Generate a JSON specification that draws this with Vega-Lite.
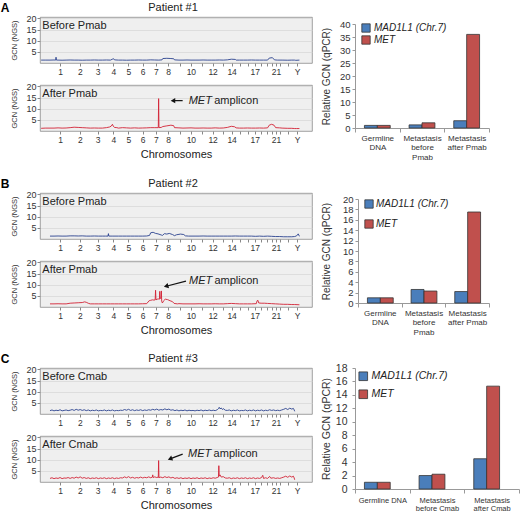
{
"$schema":"https://vega.github.io/schema/vega-lite/v6.json",
"padding":{"left":0,"top":1,"right":0,"bottom":0},
"background":"white",
"config":{"font":"Liberation Sans","view":{"fill":"#efefef","stroke":"#8a8a8a","strokeWidth":0.8}},
"resolve":{"scale":{"color":"independent"},"legend":{"color":"independent"}},
"datasets":{
"bounds":[{"x":0},{"x":249.3},{"x":492.4},{"x":690.4},{"x":881.6},{"x":1062.5},{"x":1233.6},{"x":1392.8},{"x":1539.1},{"x":1680.3},{"x":1815.8},{"x":1950.8},{"x":2084.7},{"x":2199.9},{"x":2307.3},{"x":2409.8},{"x":2500.1},{"x":2581.3},{"x":2659.4},{"x":2718.5},{"x":2781.6},{"x":2829.7},{"x":2881.0},{"x":3036.3},{"x":3095.7}],
"met":[{"x":1352}],
"panel":[{"g":"A1","k":"lab","x":-558,"y":24.6,"t":"A"},{"g":"B1","k":"lab","x":-558,"y":24.6,"t":"B"},{"g":"C1","k":"lab","x":-558,"y":24.6,"t":"C"},{"g":"A1","k":"pt","x":1526,"y":24.6,"t":"Patient #1"},{"g":"B1","k":"pt","x":1526,"y":24.6,"t":"Patient #2"},{"g":"C1","k":"pt","x":1526,"y":24.6,"t":"Patient #3"}],
"labels":[{"g":"A1","x":-95,"y":16.5,"t":"Before Pmab"},{"g":"A2","x":-95,"y":16.5,"t":"After Pmab"},{"g":"B1","x":-95,"y":16.5,"t":"Before Pmab"},{"g":"B2","x":-95,"y":16.5,"t":"After Pmab"},{"g":"C1","x":-95,"y":16.5,"t":"Before Cmab"},{"g":"C2","x":-95,"y":16.5,"t":"After Cmab"}],
"ann":[{"g":"A2","k":"gene","x":1721,"y":13.6,"t":"MET"},{"g":"A2","k":"word","x":2038,"y":13.6,"t":"amplicon"},{"g":"B2","k":"gene","x":1725,"y":11.6,"t":"MET"},{"g":"B2","k":"word","x":2040,"y":11.6,"t":"amplicon"},{"g":"C2","k":"gene","x":1712,"y":12.5,"t":"MET"},{"g":"C2","k":"word","x":2030,"y":12.5,"t":"amplicon"}],
"arrows":[{"g":"A2","x":1646,"y":13.6,"x2":1526,"y2":13.6},{"g":"B2","x":1687,"y":11.6,"x2":1441,"y2":9.3},{"g":"C2","x":1646,"y":12.5,"x2":1489,"y2":10.35}],
"heads":[{"g":"A2","x":1526,"y":13.6},{"g":"B2","x":1441,"y":9.3},{"g":"C2","x":1489,"y":10.35}],
"bars":[
{"p":"A","cat":"Germline|DNA","gene":"MAD1L1 (Chr.7)","v":1.0},{"p":"A","cat":"Germline|DNA","gene":"MET","v":1.0},
{"p":"A","cat":"Metastasis|before|Pmab","gene":"MAD1L1 (Chr.7)","v":1.2},{"p":"A","cat":"Metastasis|before|Pmab","gene":"MET","v":2.0},
{"p":"A","cat":"Metastasis|after Pmab","gene":"MAD1L1 (Chr.7)","v":2.8},{"p":"A","cat":"Metastasis|after Pmab","gene":"MET","v":36.0},
{"p":"B","cat":"Germline|DNA","gene":"MAD1L1 (Chr.7)","v":1.0},{"p":"B","cat":"Germline|DNA","gene":"MET","v":1.0},
{"p":"B","cat":"Metastasis|before|Pmab","gene":"MAD1L1 (Chr.7)","v":2.6},{"p":"B","cat":"Metastasis|before|Pmab","gene":"MET","v":2.3},
{"p":"B","cat":"Metastasis|after Pmab","gene":"MAD1L1 (Chr.7)","v":2.2},{"p":"B","cat":"Metastasis|after Pmab","gene":"MET","v":17.5},
{"p":"C","cat":"Germline DNA","gene":"MAD1L1 (Chr.7)","v":1.0},{"p":"C","cat":"Germline DNA","gene":"MET","v":1.0},
{"p":"C","cat":"Metastasis|before Cmab","gene":"MAD1L1 (Chr.7)","v":2.0},{"p":"C","cat":"Metastasis|before Cmab","gene":"MET","v":2.2},
{"p":"C","cat":"Metastasis|after Cmab","gene":"MAD1L1 (Chr.7)","v":4.5},{"p":"C","cat":"Metastasis|after Cmab","gene":"MET","v":15.3}],
"lines":[
{"g":"A1","x":-110,"y":1.3},{"g":"A1","x":-60,"y":1.3},{"g":"A1","x":0,"y":1.3},{"g":"A1","x":50,"y":1.35},{"g":"A1","x":70,"y":1.3},{"g":"A1","x":75,"y":2.6},{"g":"A1","x":80,"y":1.3},{"g":"A1","x":100,"y":1.3},{"g":"A1","x":150,"y":1.25},{"g":"A1","x":200,"y":1.3},{"g":"A1","x":250,"y":1.35},{"g":"A1","x":300,"y":1.3},{"g":"A1","x":350,"y":1.3},{"g":"A1","x":400,"y":1.25},{"g":"A1","x":450,"y":1.3},{"g":"A1","x":500,"y":1.3},{"g":"A1","x":550,"y":1.35},{"g":"A1","x":600,"y":1.3},{"g":"A1","x":650,"y":1.3},{"g":"A1","x":700,"y":1.35},{"g":"A1","x":750,"y":1.3},{"g":"A1","x":780,"y":1.8},{"g":"A1","x":790,"y":1.9},{"g":"A1","x":800,"y":1.4},{"g":"A1","x":850,"y":1.3},{"g":"A1","x":900,"y":1.3},{"g":"A1","x":950,"y":1.25},{"g":"A1","x":1000,"y":1.3},{"g":"A1","x":1050,"y":1.3},{"g":"A1","x":1100,"y":1.35},{"g":"A1","x":1150,"y":1.3},{"g":"A1","x":1200,"y":1.3},{"g":"A1","x":1250,"y":1.4},{"g":"A1","x":1300,"y":1.35},{"g":"A1","x":1350,"y":1.3},{"g":"A1","x":1390,"y":1.4},{"g":"A1","x":1400,"y":2.0},{"g":"A1","x":1450,"y":2.1},{"g":"A1","x":1500,"y":2.0},{"g":"A1","x":1535,"y":1.9},{"g":"A1","x":1545,"y":1.4},{"g":"A1","x":1600,"y":1.3},{"g":"A1","x":1650,"y":1.3},{"g":"A1","x":1700,"y":1.35},{"g":"A1","x":1750,"y":1.3},{"g":"A1","x":1800,"y":1.3},{"g":"A1","x":1850,"y":1.3},{"g":"A1","x":1900,"y":1.35},{"g":"A1","x":1950,"y":1.3},{"g":"A1","x":2000,"y":1.3},{"g":"A1","x":2050,"y":1.3},{"g":"A1","x":2100,"y":1.35},{"g":"A1","x":2150,"y":1.3},{"g":"A1","x":2200,"y":1.4},{"g":"A1","x":2250,"y":1.7},{"g":"A1","x":2300,"y":1.6},{"g":"A1","x":2310,"y":1.3},{"g":"A1","x":2350,"y":1.3},{"g":"A1","x":2400,"y":1.3},{"g":"A1","x":2450,"y":1.3},{"g":"A1","x":2500,"y":1.35},{"g":"A1","x":2550,"y":1.3},{"g":"A1","x":2600,"y":1.3},{"g":"A1","x":2650,"y":1.3},{"g":"A1","x":2700,"y":1.3},{"g":"A1","x":2720,"y":2.2},{"g":"A1","x":2760,"y":2.4},{"g":"A1","x":2785,"y":1.4},{"g":"A1","x":2820,"y":1.3},{"g":"A1","x":2880,"y":1.3},{"g":"A1","x":2950,"y":1.25},{"g":"A1","x":3000,"y":1.3},{"g":"A1","x":3036,"y":1.3},{"g":"A1","x":3050,"y":1.2},{"g":"A1","x":3095,"y":1.3},
{"g":"A2","x":-110,"y":1.2},{"g":"A2","x":-60,"y":1.3},{"g":"A2","x":0,"y":1.3},{"g":"A2","x":50,"y":1.3},{"g":"A2","x":100,"y":1.4},{"g":"A2","x":150,"y":1.3},{"g":"A2","x":200,"y":1.35},{"g":"A2","x":250,"y":1.5},{"g":"A2","x":300,"y":1.7},{"g":"A2","x":350,"y":1.6},{"g":"A2","x":400,"y":1.5},{"g":"A2","x":450,"y":1.4},{"g":"A2","x":500,"y":1.3},{"g":"A2","x":550,"y":1.35},{"g":"A2","x":600,"y":1.3},{"g":"A2","x":650,"y":1.3},{"g":"A2","x":700,"y":1.5},{"g":"A2","x":740,"y":1.8},{"g":"A2","x":760,"y":2.2},{"g":"A2","x":775,"y":3.0},{"g":"A2","x":785,"y":2.2},{"g":"A2","x":800,"y":1.6},{"g":"A2","x":830,"y":1.5},{"g":"A2","x":850,"y":1.3},{"g":"A2","x":900,"y":1.5},{"g":"A2","x":950,"y":1.4},{"g":"A2","x":1000,"y":1.3},{"g":"A2","x":1050,"y":1.4},{"g":"A2","x":1100,"y":1.3},{"g":"A2","x":1150,"y":1.35},{"g":"A2","x":1200,"y":1.4},{"g":"A2","x":1250,"y":1.5},{"g":"A2","x":1300,"y":1.5},{"g":"A2","x":1344,"y":1.5},{"g":"A2","x":1348,"y":14.5},{"g":"A2","x":1352,"y":1.5},{"g":"A2","x":1380,"y":1.6},{"g":"A2","x":1400,"y":2.0},{"g":"A2","x":1450,"y":2.3},{"g":"A2","x":1500,"y":2.6},{"g":"A2","x":1535,"y":2.4},{"g":"A2","x":1545,"y":1.5},{"g":"A2","x":1600,"y":1.4},{"g":"A2","x":1650,"y":1.3},{"g":"A2","x":1700,"y":1.35},{"g":"A2","x":1750,"y":1.4},{"g":"A2","x":1800,"y":1.3},{"g":"A2","x":1850,"y":1.3},{"g":"A2","x":1900,"y":1.35},{"g":"A2","x":1950,"y":1.3},{"g":"A2","x":2000,"y":1.3},{"g":"A2","x":2050,"y":1.4},{"g":"A2","x":2100,"y":1.3},{"g":"A2","x":2150,"y":1.35},{"g":"A2","x":2200,"y":1.6},{"g":"A2","x":2250,"y":2.1},{"g":"A2","x":2290,"y":1.9},{"g":"A2","x":2310,"y":1.4},{"g":"A2","x":2350,"y":1.3},{"g":"A2","x":2400,"y":1.3},{"g":"A2","x":2450,"y":1.35},{"g":"A2","x":2500,"y":1.3},{"g":"A2","x":2550,"y":1.3},{"g":"A2","x":2600,"y":1.35},{"g":"A2","x":2650,"y":1.3},{"g":"A2","x":2700,"y":1.4},{"g":"A2","x":2720,"y":2.6},{"g":"A2","x":2750,"y":3.0},{"g":"A2","x":2780,"y":2.6},{"g":"A2","x":2800,"y":1.5},{"g":"A2","x":2850,"y":1.4},{"g":"A2","x":2880,"y":1.3},{"g":"A2","x":2950,"y":1.2},{"g":"A2","x":3000,"y":1.2},{"g":"A2","x":3036,"y":1.1},{"g":"A2","x":3060,"y":1.1},{"g":"A2","x":3095,"y":1.1},
{"g":"B1","x":0,"y":1.3},{"g":"B1","x":50,"y":1.3},{"g":"B1","x":100,"y":1.35},{"g":"B1","x":150,"y":1.3},{"g":"B1","x":200,"y":1.3},{"g":"B1","x":250,"y":1.4},{"g":"B1","x":300,"y":1.4},{"g":"B1","x":350,"y":1.35},{"g":"B1","x":400,"y":1.4},{"g":"B1","x":450,"y":1.3},{"g":"B1","x":500,"y":1.3},{"g":"B1","x":550,"y":1.35},{"g":"B1","x":600,"y":1.3},{"g":"B1","x":650,"y":1.3},{"g":"B1","x":690,"y":1.3},{"g":"B1","x":720,"y":1.3},{"g":"B1","x":725,"y":2.4},{"g":"B1","x":730,"y":1.3},{"g":"B1","x":780,"y":1.3},{"g":"B1","x":850,"y":1.3},{"g":"B1","x":900,"y":1.3},{"g":"B1","x":950,"y":1.3},{"g":"B1","x":1000,"y":1.3},{"g":"B1","x":1050,"y":1.3},{"g":"B1","x":1100,"y":1.3},{"g":"B1","x":1150,"y":1.3},{"g":"B1","x":1200,"y":1.35},{"g":"B1","x":1235,"y":1.6},{"g":"B1","x":1250,"y":2.8},{"g":"B1","x":1280,"y":3.0},{"g":"B1","x":1310,"y":2.5},{"g":"B1","x":1340,"y":2.3},{"g":"B1","x":1380,"y":1.8},{"g":"B1","x":1395,"y":1.6},{"g":"B1","x":1420,"y":2.4},{"g":"B1","x":1450,"y":2.2},{"g":"B1","x":1480,"y":2.5},{"g":"B1","x":1520,"y":2.0},{"g":"B1","x":1545,"y":1.5},{"g":"B1","x":1570,"y":1.9},{"g":"B1","x":1620,"y":2.2},{"g":"B1","x":1660,"y":2.0},{"g":"B1","x":1680,"y":1.4},{"g":"B1","x":1720,"y":1.3},{"g":"B1","x":1800,"y":1.3},{"g":"B1","x":1850,"y":1.3},{"g":"B1","x":1900,"y":1.35},{"g":"B1","x":1950,"y":1.3},{"g":"B1","x":2000,"y":1.3},{"g":"B1","x":2050,"y":1.3},{"g":"B1","x":2100,"y":1.3},{"g":"B1","x":2150,"y":1.3},{"g":"B1","x":2200,"y":1.3},{"g":"B1","x":2250,"y":1.3},{"g":"B1","x":2300,"y":1.35},{"g":"B1","x":2350,"y":1.3},{"g":"B1","x":2400,"y":1.3},{"g":"B1","x":2450,"y":1.3},{"g":"B1","x":2500,"y":1.3},{"g":"B1","x":2550,"y":1.2},{"g":"B1","x":2600,"y":1.3},{"g":"B1","x":2650,"y":1.2},{"g":"B1","x":2700,"y":1.3},{"g":"B1","x":2750,"y":1.2},{"g":"B1","x":2800,"y":1.1},{"g":"B1","x":2850,"y":1.1},{"g":"B1","x":2900,"y":1.0},{"g":"B1","x":2950,"y":1.0},{"g":"B1","x":3000,"y":1.0},{"g":"B1","x":3036,"y":1.1},{"g":"B1","x":3060,"y":1.4},{"g":"B1","x":3080,"y":2.3},{"g":"B1","x":3095,"y":1.2},
{"g":"B2","x":0,"y":1.4},{"g":"B2","x":50,"y":1.4},{"g":"B2","x":100,"y":1.45},{"g":"B2","x":150,"y":1.4},{"g":"B2","x":200,"y":1.4},{"g":"B2","x":250,"y":1.7},{"g":"B2","x":300,"y":1.8},{"g":"B2","x":350,"y":1.9},{"g":"B2","x":400,"y":2.0},{"g":"B2","x":430,"y":2.3},{"g":"B2","x":450,"y":2.1},{"g":"B2","x":480,"y":1.6},{"g":"B2","x":500,"y":1.4},{"g":"B2","x":550,"y":1.4},{"g":"B2","x":600,"y":1.4},{"g":"B2","x":650,"y":1.4},{"g":"B2","x":700,"y":1.4},{"g":"B2","x":750,"y":1.4},{"g":"B2","x":800,"y":1.4},{"g":"B2","x":850,"y":1.4},{"g":"B2","x":900,"y":1.4},{"g":"B2","x":950,"y":1.4},{"g":"B2","x":1000,"y":1.4},{"g":"B2","x":1050,"y":1.4},{"g":"B2","x":1100,"y":1.4},{"g":"B2","x":1150,"y":1.45},{"g":"B2","x":1200,"y":1.5},{"g":"B2","x":1230,"y":2.8},{"g":"B2","x":1250,"y":3.0},{"g":"B2","x":1270,"y":3.2},{"g":"B2","x":1290,"y":3.1},{"g":"B2","x":1305,"y":3.2},{"g":"B2","x":1310,"y":7.5},{"g":"B2","x":1315,"y":3.2},{"g":"B2","x":1330,"y":3.5},{"g":"B2","x":1345,"y":3.6},{"g":"B2","x":1358,"y":3.5},{"g":"B2","x":1362,"y":7.0},{"g":"B2","x":1366,"y":4.0},{"g":"B2","x":1378,"y":3.8},{"g":"B2","x":1382,"y":7.2},{"g":"B2","x":1386,"y":2.5},{"g":"B2","x":1395,"y":1.8},{"g":"B2","x":1410,"y":2.8},{"g":"B2","x":1430,"y":3.5},{"g":"B2","x":1460,"y":3.3},{"g":"B2","x":1490,"y":2.8},{"g":"B2","x":1520,"y":2.4},{"g":"B2","x":1540,"y":1.6},{"g":"B2","x":1580,"y":1.4},{"g":"B2","x":1600,"y":1.5},{"g":"B2","x":1650,"y":1.4},{"g":"B2","x":1700,"y":1.4},{"g":"B2","x":1750,"y":1.4},{"g":"B2","x":1800,"y":1.4},{"g":"B2","x":1850,"y":1.45},{"g":"B2","x":1900,"y":1.4},{"g":"B2","x":1950,"y":1.4},{"g":"B2","x":2000,"y":1.4},{"g":"B2","x":2050,"y":1.45},{"g":"B2","x":2100,"y":1.4},{"g":"B2","x":2150,"y":1.4},{"g":"B2","x":2200,"y":1.5},{"g":"B2","x":2250,"y":1.6},{"g":"B2","x":2300,"y":1.5},{"g":"B2","x":2350,"y":1.4},{"g":"B2","x":2400,"y":1.4},{"g":"B2","x":2450,"y":1.4},{"g":"B2","x":2500,"y":1.4},{"g":"B2","x":2560,"y":1.5},{"g":"B2","x":2570,"y":2.8},{"g":"B2","x":2580,"y":3.0},{"g":"B2","x":2590,"y":1.8},{"g":"B2","x":2620,"y":1.7},{"g":"B2","x":2660,"y":1.7},{"g":"B2","x":2700,"y":1.6},{"g":"B2","x":2750,"y":1.5},{"g":"B2","x":2800,"y":1.4},{"g":"B2","x":2850,"y":1.3},{"g":"B2","x":2900,"y":1.2},{"g":"B2","x":2950,"y":1.2},{"g":"B2","x":3000,"y":1.1},{"g":"B2","x":3036,"y":1.1},{"g":"B2","x":3095,"y":1.0},
{"g":"C1","x":0,"y":1.5},{"g":"C1","x":25,"y":1.8},{"g":"C1","x":50,"y":1.4},{"g":"C1","x":75,"y":1.7},{"g":"C1","x":100,"y":1.5},{"g":"C1","x":125,"y":1.9},{"g":"C1","x":150,"y":1.4},{"g":"C1","x":175,"y":1.6},{"g":"C1","x":200,"y":1.8},{"g":"C1","x":225,"y":1.5},{"g":"C1","x":250,"y":1.7},{"g":"C1","x":275,"y":2.0},{"g":"C1","x":300,"y":1.6},{"g":"C1","x":325,"y":2.1},{"g":"C1","x":350,"y":1.7},{"g":"C1","x":375,"y":2.0},{"g":"C1","x":400,"y":1.6},{"g":"C1","x":425,"y":1.9},{"g":"C1","x":450,"y":1.5},{"g":"C1","x":475,"y":1.8},{"g":"C1","x":500,"y":1.4},{"g":"C1","x":525,"y":1.7},{"g":"C1","x":550,"y":1.5},{"g":"C1","x":575,"y":1.8},{"g":"C1","x":600,"y":1.4},{"g":"C1","x":625,"y":1.6},{"g":"C1","x":650,"y":1.5},{"g":"C1","x":675,"y":1.8},{"g":"C1","x":700,"y":1.4},{"g":"C1","x":725,"y":1.7},{"g":"C1","x":750,"y":1.5},{"g":"C1","x":775,"y":1.8},{"g":"C1","x":800,"y":1.4},{"g":"C1","x":825,"y":1.6},{"g":"C1","x":850,"y":1.5},{"g":"C1","x":875,"y":1.7},{"g":"C1","x":900,"y":1.6},{"g":"C1","x":925,"y":2.0},{"g":"C1","x":950,"y":1.7},{"g":"C1","x":975,"y":2.1},{"g":"C1","x":1000,"y":1.6},{"g":"C1","x":1025,"y":1.9},{"g":"C1","x":1050,"y":1.5},{"g":"C1","x":1075,"y":1.8},{"g":"C1","x":1100,"y":1.6},{"g":"C1","x":1125,"y":1.9},{"g":"C1","x":1150,"y":1.5},{"g":"C1","x":1175,"y":1.8},{"g":"C1","x":1200,"y":1.6},{"g":"C1","x":1225,"y":1.9},{"g":"C1","x":1250,"y":1.7},{"g":"C1","x":1275,"y":2.1},{"g":"C1","x":1300,"y":1.8},{"g":"C1","x":1325,"y":2.2},{"g":"C1","x":1350,"y":1.7},{"g":"C1","x":1375,"y":2.0},{"g":"C1","x":1400,"y":1.8},{"g":"C1","x":1425,"y":2.3},{"g":"C1","x":1450,"y":1.9},{"g":"C1","x":1475,"y":2.2},{"g":"C1","x":1500,"y":1.7},{"g":"C1","x":1525,"y":1.9},{"g":"C1","x":1550,"y":1.5},{"g":"C1","x":1575,"y":1.8},{"g":"C1","x":1600,"y":1.4},{"g":"C1","x":1625,"y":1.7},{"g":"C1","x":1650,"y":1.5},{"g":"C1","x":1675,"y":1.8},{"g":"C1","x":1700,"y":1.4},{"g":"C1","x":1725,"y":1.7},{"g":"C1","x":1750,"y":1.5},{"g":"C1","x":1775,"y":1.6},{"g":"C1","x":1800,"y":1.4},{"g":"C1","x":1825,"y":1.7},{"g":"C1","x":1850,"y":1.5},{"g":"C1","x":1875,"y":1.8},{"g":"C1","x":1900,"y":1.4},{"g":"C1","x":1925,"y":1.7},{"g":"C1","x":1950,"y":1.5},{"g":"C1","x":1975,"y":1.8},{"g":"C1","x":2000,"y":1.5},{"g":"C1","x":2025,"y":1.7},{"g":"C1","x":2050,"y":1.5},{"g":"C1","x":2075,"y":1.9},{"g":"C1","x":2090,"y":2.4},{"g":"C1","x":2100,"y":3.0},{"g":"C1","x":2110,"y":2.3},{"g":"C1","x":2125,"y":2.7},{"g":"C1","x":2140,"y":2.0},{"g":"C1","x":2150,"y":2.4},{"g":"C1","x":2175,"y":1.7},{"g":"C1","x":2200,"y":1.6},{"g":"C1","x":2225,"y":1.8},{"g":"C1","x":2250,"y":1.4},{"g":"C1","x":2275,"y":1.7},{"g":"C1","x":2300,"y":1.5},{"g":"C1","x":2325,"y":1.8},{"g":"C1","x":2350,"y":1.4},{"g":"C1","x":2375,"y":1.6},{"g":"C1","x":2400,"y":1.5},{"g":"C1","x":2425,"y":1.8},{"g":"C1","x":2450,"y":1.4},{"g":"C1","x":2475,"y":1.7},{"g":"C1","x":2500,"y":1.5},{"g":"C1","x":2525,"y":1.8},{"g":"C1","x":2550,"y":1.4},{"g":"C1","x":2575,"y":1.7},{"g":"C1","x":2600,"y":1.5},{"g":"C1","x":2625,"y":1.8},{"g":"C1","x":2650,"y":1.4},{"g":"C1","x":2675,"y":1.7},{"g":"C1","x":2700,"y":1.5},{"g":"C1","x":2725,"y":1.9},{"g":"C1","x":2750,"y":1.6},{"g":"C1","x":2775,"y":1.8},{"g":"C1","x":2800,"y":1.5},{"g":"C1","x":2825,"y":1.7},{"g":"C1","x":2850,"y":1.5},{"g":"C1","x":2875,"y":1.8},{"g":"C1","x":2900,"y":2.1},{"g":"C1","x":2925,"y":2.5},{"g":"C1","x":2950,"y":2.0},{"g":"C1","x":2975,"y":2.6},{"g":"C1","x":3000,"y":2.2},{"g":"C1","x":3020,"y":2.5},{"g":"C1","x":3030,"y":1.8},{"g":"C1","x":3036,"y":1.2},
{"g":"C2","x":0,"y":1.6},{"g":"C2","x":25,"y":1.9},{"g":"C2","x":50,"y":1.5},{"g":"C2","x":75,"y":1.8},{"g":"C2","x":100,"y":1.6},{"g":"C2","x":125,"y":2.0},{"g":"C2","x":150,"y":1.5},{"g":"C2","x":175,"y":1.8},{"g":"C2","x":200,"y":1.7},{"g":"C2","x":225,"y":2.0},{"g":"C2","x":250,"y":1.6},{"g":"C2","x":275,"y":2.0},{"g":"C2","x":300,"y":1.7},{"g":"C2","x":325,"y":2.2},{"g":"C2","x":350,"y":1.8},{"g":"C2","x":375,"y":2.3},{"g":"C2","x":400,"y":1.7},{"g":"C2","x":425,"y":2.0},{"g":"C2","x":450,"y":1.6},{"g":"C2","x":475,"y":1.9},{"g":"C2","x":500,"y":1.5},{"g":"C2","x":525,"y":1.8},{"g":"C2","x":550,"y":1.6},{"g":"C2","x":575,"y":1.9},{"g":"C2","x":600,"y":1.5},{"g":"C2","x":625,"y":1.8},{"g":"C2","x":650,"y":1.6},{"g":"C2","x":675,"y":1.9},{"g":"C2","x":700,"y":1.5},{"g":"C2","x":725,"y":1.8},{"g":"C2","x":750,"y":1.6},{"g":"C2","x":775,"y":1.9},{"g":"C2","x":800,"y":1.5},{"g":"C2","x":825,"y":1.8},{"g":"C2","x":850,"y":1.6},{"g":"C2","x":875,"y":1.9},{"g":"C2","x":900,"y":1.8},{"g":"C2","x":925,"y":2.3},{"g":"C2","x":950,"y":1.9},{"g":"C2","x":975,"y":2.4},{"g":"C2","x":1000,"y":1.8},{"g":"C2","x":1025,"y":2.1},{"g":"C2","x":1050,"y":1.7},{"g":"C2","x":1075,"y":2.0},{"g":"C2","x":1100,"y":1.8},{"g":"C2","x":1125,"y":2.2},{"g":"C2","x":1150,"y":1.8},{"g":"C2","x":1175,"y":2.1},{"g":"C2","x":1200,"y":1.9},{"g":"C2","x":1225,"y":2.3},{"g":"C2","x":1250,"y":1.9},{"g":"C2","x":1270,"y":2.2},{"g":"C2","x":1275,"y":3.2},{"g":"C2","x":1280,"y":2.0},{"g":"C2","x":1300,"y":2.3},{"g":"C2","x":1325,"y":2.0},{"g":"C2","x":1340,"y":2.2},{"g":"C2","x":1344,"y":2.0},{"g":"C2","x":1348,"y":9.6},{"g":"C2","x":1352,"y":2.0},{"g":"C2","x":1375,"y":2.2},{"g":"C2","x":1400,"y":1.9},{"g":"C2","x":1425,"y":2.4},{"g":"C2","x":1450,"y":2.0},{"g":"C2","x":1475,"y":2.3},{"g":"C2","x":1500,"y":1.8},{"g":"C2","x":1525,"y":2.1},{"g":"C2","x":1550,"y":1.6},{"g":"C2","x":1575,"y":1.9},{"g":"C2","x":1600,"y":1.6},{"g":"C2","x":1625,"y":1.9},{"g":"C2","x":1650,"y":1.5},{"g":"C2","x":1675,"y":1.8},{"g":"C2","x":1700,"y":1.6},{"g":"C2","x":1725,"y":1.9},{"g":"C2","x":1750,"y":1.5},{"g":"C2","x":1775,"y":1.8},{"g":"C2","x":1800,"y":1.6},{"g":"C2","x":1825,"y":1.9},{"g":"C2","x":1850,"y":1.5},{"g":"C2","x":1875,"y":1.8},{"g":"C2","x":1900,"y":1.6},{"g":"C2","x":1925,"y":1.9},{"g":"C2","x":1950,"y":1.5},{"g":"C2","x":1975,"y":1.8},{"g":"C2","x":2000,"y":1.6},{"g":"C2","x":2025,"y":1.9},{"g":"C2","x":2050,"y":1.7},{"g":"C2","x":2075,"y":2.0},{"g":"C2","x":2090,"y":2.2},{"g":"C2","x":2095,"y":7.3},{"g":"C2","x":2100,"y":2.6},{"g":"C2","x":2110,"y":3.2},{"g":"C2","x":2125,"y":2.2},{"g":"C2","x":2150,"y":2.4},{"g":"C2","x":2175,"y":1.8},{"g":"C2","x":2200,"y":1.7},{"g":"C2","x":2225,"y":1.9},{"g":"C2","x":2250,"y":1.5},{"g":"C2","x":2275,"y":1.8},{"g":"C2","x":2300,"y":1.6},{"g":"C2","x":2325,"y":1.9},{"g":"C2","x":2350,"y":1.5},{"g":"C2","x":2375,"y":1.8},{"g":"C2","x":2400,"y":1.6},{"g":"C2","x":2425,"y":1.9},{"g":"C2","x":2450,"y":1.5},{"g":"C2","x":2475,"y":1.8},{"g":"C2","x":2500,"y":1.6},{"g":"C2","x":2525,"y":1.9},{"g":"C2","x":2550,"y":1.5},{"g":"C2","x":2575,"y":1.8},{"g":"C2","x":2600,"y":1.6},{"g":"C2","x":2625,"y":2.0},{"g":"C2","x":2640,"y":3.0},{"g":"C2","x":2650,"y":1.6},{"g":"C2","x":2675,"y":1.9},{"g":"C2","x":2700,"y":1.6},{"g":"C2","x":2725,"y":2.5},{"g":"C2","x":2740,"y":1.7},{"g":"C2","x":2775,"y":1.9},{"g":"C2","x":2800,"y":1.6},{"g":"C2","x":2825,"y":1.8},{"g":"C2","x":2850,"y":1.6},{"g":"C2","x":2875,"y":1.9},{"g":"C2","x":2900,"y":2.2},{"g":"C2","x":2925,"y":2.6},{"g":"C2","x":2950,"y":2.1},{"g":"C2","x":2975,"y":2.7},{"g":"C2","x":3000,"y":2.2},{"g":"C2","x":3020,"y":2.6},{"g":"C2","x":3030,"y":1.8},{"g":"C2","x":3036,"y":1.0}
]
},
"spacing":16,
"vconcat":[
{"resolve":{"scale":{"color":"independent"},"legend":{"color":"independent"}},
 "spacing":8,
 "hconcat":[
  {"spacing":5,"vconcat":[
   {"width":272,"height":46,
    "encoding":{"x":{"field":"x","type":"quantitative","scale":{"domain":[-124,3251],"nice":false,"zero":false},"axis":{"orient":"bottom","labels":true,"values":[124.6,370.9,591.4,786,972.1,1148.1,1313.2,1466,1609.7,1748.1,1883.3,2017.8,2142.3,2253.6,2358.5,2455,2540.7,2620.4,2689,2750,2805.6,2855.3,2958.6,3066],"labelExpr":"['1','2','3','4','5','6','7','8','','10','','12','','14','','','17','','','','21','','','Y'][indexof([124.6,370.9,591.4,786,972.1,1148.1,1313.2,1466,1609.7,1748.1,1883.3,2017.8,2142.3,2253.6,2358.5,2455,2540.7,2620.4,2689,2750,2805.6,2855.3,2958.6,3066],datum.value)]","labelOverlap":false,"labelFlush":false,"grid":false,"domain":false,"tickSize":3,"tickColor":"#888","labelPadding":1,"labelFontSize":8.5,"labelColor":"#333","title":""}},
     "y":{"field":"y","type":"quantitative","scale":{"domain":[0,20.6],"nice":false,"zero":false},"axis":{"values":[5,10,15,20],"labelOverlap":false,"labelFlush":false,"grid":true,"gridColor":"#d6d6d6","gridWidth":0.7,"domain":false,"tickSize":3,"tickColor":"#888","labelPadding":1,"labelFontSize":9,"labelColor":"#333","title":"GCN (NGS)","titleFontSize":7.5,"titleFontWeight":"normal","titlePadding":7,"titleColor":"#333"}}},
    "layer":[
     {"data":{"name":"bounds"},"mark":{"type":"rule","color":"#a3a3a3","strokeWidth":0.9},"encoding":{"y":{"datum":0},"y2":{"datum":20.6}}},
     {"data":{"name":"met"},"mark":{"type":"rule","color":"#b5dcef","strokeWidth":2},"encoding":{"y":{"datum":0},"y2":{"datum":20.6}}},
     {"data":{"name":"lines"},"transform":[{"filter":"datum.g==='A1'"}],"mark":{"type":"line","color":"#2a428f","strokeWidth":0.9},"encoding":{}},
     {"data":{"name":"labels"},"transform":[{"filter":"datum.g==='A1'"}],"mark":{"type":"text","align":"left","baseline":"middle","fontSize":11,"color":"#222"},"encoding":{"text":{"field":"t"}}},
     {"data":{"name":"panel"},"transform":[{"filter":"datum.g==='A1' && datum.k==='lab'"}],"mark":{"type":"text","align":"center","baseline":"middle","fontSize":12,"fontWeight":"bold","color":"#000"},"encoding":{"text":{"field":"t"}}},
     {"data":{"name":"panel"},"transform":[{"filter":"datum.g==='A1' && datum.k==='pt'"}],"mark":{"type":"text","align":"center","baseline":"middle","fontSize":11,"color":"#222"},"encoding":{"text":{"field":"t"}}}
    ]},
   {"width":272,"height":46,
    "encoding":{"x":{"field":"x","type":"quantitative","scale":{"domain":[-124,3251],"nice":false,"zero":false},"axis":{"values":[124.6,370.9,591.4,786,972.1,1148.1,1313.2,1466,1609.7,1748.1,1883.3,2017.8,2142.3,2253.6,2358.5,2455,2540.7,2620.4,2689,2750,2805.6,2855.3,2958.6,3066],"labelExpr":"['1','2','3','4','5','6','7','8','','10','','12','','14','','','17','','','','21','','','Y'][indexof([124.6,370.9,591.4,786,972.1,1148.1,1313.2,1466,1609.7,1748.1,1883.3,2017.8,2142.3,2253.6,2358.5,2455,2540.7,2620.4,2689,2750,2805.6,2855.3,2958.6,3066],datum.value)]","labelOverlap":false,"labelFlush":false,"grid":false,"domain":false,"tickSize":3,"tickColor":"#888","labelPadding":1,"labelFontSize":8.5,"labelColor":"#333","title":"Chromosomes","titleFontSize":11,"titleFontWeight":"normal","titlePadding":5,"titleColor":"#222"}},
     "y":{"field":"y","type":"quantitative","scale":{"domain":[0,20.6],"nice":false,"zero":false},"axis":{"values":[5,10,15,20],"labelOverlap":false,"labelFlush":false,"grid":true,"gridColor":"#d6d6d6","gridWidth":0.7,"domain":false,"tickSize":3,"tickColor":"#888","labelPadding":1,"labelFontSize":9,"labelColor":"#333","title":"GCN (NGS)","titleFontSize":7.5,"titleFontWeight":"normal","titlePadding":7,"titleColor":"#333"}}},
    "layer":[
     {"data":{"name":"bounds"},"mark":{"type":"rule","color":"#a3a3a3","strokeWidth":0.9},"encoding":{"y":{"datum":0},"y2":{"datum":20.6}}},
     {"data":{"name":"met"},"mark":{"type":"rule","color":"#b5dcef","strokeWidth":2},"encoding":{"y":{"datum":0},"y2":{"datum":20.6}}},
     {"data":{"name":"lines"},"transform":[{"filter":"datum.g==='A2'"}],"mark":{"type":"line","color":"#d32236","strokeWidth":0.9},"encoding":{}},
     {"data":{"name":"labels"},"transform":[{"filter":"datum.g==='A2'"}],"mark":{"type":"text","align":"left","baseline":"middle","fontSize":11,"color":"#222"},"encoding":{"text":{"field":"t"}}},
     {"data":{"name":"arrows"},"transform":[{"filter":"datum.g==='A2'"}],"mark":{"type":"rule","color":"#111","strokeWidth":1.2},"encoding":{"x2":{"field":"x2"},"y2":{"field":"y2"}}},
     {"data":{"name":"heads"},"transform":[{"filter":"datum.g==='A2'"}],"mark":{"type":"point","shape":"triangle-left","filled":true,"color":"#111","opacity":1,"size":28,"angle":0},"encoding":{}},
     {"data":{"name":"ann"},"transform":[{"filter":"datum.g==='A2' && datum.k==='gene'"}],"mark":{"type":"text","align":"left","baseline":"middle","fontSize":11,"fontStyle":"italic","color":"#222"},"encoding":{"text":{"field":"t"}}},
     {"data":{"name":"ann"},"transform":[{"filter":"datum.g==='A2' && datum.k==='word'"}],"mark":{"type":"text","align":"left","baseline":"middle","fontSize":11,"color":"#222"},"encoding":{"text":{"field":"t"}}}
    ]}
  ]},
  {"spacing":1,"vconcat":[
   {"width":134,"height":1,"view":{"stroke":null,"fill":null},"data":{"values":[{}]},"mark":{"type":"text","fontSize":0},"encoding":{"text":{"value":""}}},
   {"width":134,"height":104,
   "view":{"stroke":null,"fill":null},
   "data":{"name":"bars"},
   "transform":[{"filter":"datum.p==='A'"}],
   "mark":{"type":"bar","stroke":"#333","strokeWidth":0.8},
   "encoding":{
    "x":{"field":"cat","type":"nominal","sort":null,"scale":{"paddingInner":0,"paddingOuter":0},"axis":{"title":null,"labelAngle":0,"labelExpr":"split(datum.label,'|')","tickBand":"extent","tickSize":4,"tickColor":"#999","domainColor":"#999","labelFontSize":8,"labelLineHeight":9.5,"labelPadding":2,"labelColor":"#333"}},
    "xOffset":{"field":"gene","type":"nominal","sort":["MAD1L1 (Chr.7)","MET"],"scale":{"paddingOuter":0.73,"paddingInner":0}},
    "y":{"field":"v","type":"quantitative","scale":{"domain":[0,40],"nice":false},"axis":{"values":[0,5,10,15,20,25,30,35,40],"labelOverlap":false,"grid":false,"title":"Relative GCN (qPCR)","titleFontSize":10,"titleFontWeight":"normal","titleColor":"#333","titlePadding":8,"labelFontSize":9.5,"labelColor":"#333","tickSize":3,"labelPadding":2,"domainColor":"#999","tickColor":"#999"}},
    "color":{"field":"gene","type":"nominal","scale":{"domain":["MAD1L1 (Chr.7)","MET"],"range":["#4a7ebb","#c0504d"]},"legend":{"title":null,"orient":"top-left","offset":6,"padding":0,"symbolType":"square","symbolSize":70,"symbolStrokeColor":"#333","symbolStrokeWidth":0.8,"labelFontSize":10,"labelFontStyle":"italic","labelColor":"#222","rowPadding":0,"labelOffset":3}}
   }}
  ]}
 ]},
{"resolve":{"scale":{"color":"independent"},"legend":{"color":"independent"}},
 "spacing":8,
 "hconcat":[
  {"spacing":5,"vconcat":[
   {"width":272,"height":46,
    "encoding":{"x":{"field":"x","type":"quantitative","scale":{"domain":[-124,3251],"nice":false,"zero":false},"axis":{"orient":"bottom","labels":true,"values":[124.6,370.9,591.4,786,972.1,1148.1,1313.2,1466,1609.7,1748.1,1883.3,2017.8,2142.3,2253.6,2358.5,2455,2540.7,2620.4,2689,2750,2805.6,2855.3,2958.6,3066],"labelExpr":"['1','2','3','4','5','6','7','8','','10','','12','','14','','','17','','','','21','','','Y'][indexof([124.6,370.9,591.4,786,972.1,1148.1,1313.2,1466,1609.7,1748.1,1883.3,2017.8,2142.3,2253.6,2358.5,2455,2540.7,2620.4,2689,2750,2805.6,2855.3,2958.6,3066],datum.value)]","labelOverlap":false,"labelFlush":false,"grid":false,"domain":false,"tickSize":3,"tickColor":"#888","labelPadding":1,"labelFontSize":8.5,"labelColor":"#333","title":""}},
     "y":{"field":"y","type":"quantitative","scale":{"domain":[0,20.6],"nice":false,"zero":false},"axis":{"values":[5,10,15,20],"labelOverlap":false,"labelFlush":false,"grid":true,"gridColor":"#d6d6d6","gridWidth":0.7,"domain":false,"tickSize":3,"tickColor":"#888","labelPadding":1,"labelFontSize":9,"labelColor":"#333","title":"GCN (NGS)","titleFontSize":7.5,"titleFontWeight":"normal","titlePadding":7,"titleColor":"#333"}}},
    "layer":[
     {"data":{"name":"bounds"},"mark":{"type":"rule","color":"#a3a3a3","strokeWidth":0.9},"encoding":{"y":{"datum":0},"y2":{"datum":20.6}}},
     {"data":{"name":"met"},"mark":{"type":"rule","color":"#b5dcef","strokeWidth":2},"encoding":{"y":{"datum":0},"y2":{"datum":20.6}}},
     {"data":{"name":"lines"},"transform":[{"filter":"datum.g==='B1'"}],"mark":{"type":"line","color":"#2a428f","strokeWidth":0.9},"encoding":{}},
     {"data":{"name":"labels"},"transform":[{"filter":"datum.g==='B1'"}],"mark":{"type":"text","align":"left","baseline":"middle","fontSize":11,"color":"#222"},"encoding":{"text":{"field":"t"}}},
     {"data":{"name":"panel"},"transform":[{"filter":"datum.g==='B1' && datum.k==='lab'"}],"mark":{"type":"text","align":"center","baseline":"middle","fontSize":12,"fontWeight":"bold","color":"#000"},"encoding":{"text":{"field":"t"}}},
     {"data":{"name":"panel"},"transform":[{"filter":"datum.g==='B1' && datum.k==='pt'"}],"mark":{"type":"text","align":"center","baseline":"middle","fontSize":11,"color":"#222"},"encoding":{"text":{"field":"t"}}}
    ]},
   {"width":272,"height":46,
    "encoding":{"x":{"field":"x","type":"quantitative","scale":{"domain":[-124,3251],"nice":false,"zero":false},"axis":{"values":[124.6,370.9,591.4,786,972.1,1148.1,1313.2,1466,1609.7,1748.1,1883.3,2017.8,2142.3,2253.6,2358.5,2455,2540.7,2620.4,2689,2750,2805.6,2855.3,2958.6,3066],"labelExpr":"['1','2','3','4','5','6','7','8','','10','','12','','14','','','17','','','','21','','','Y'][indexof([124.6,370.9,591.4,786,972.1,1148.1,1313.2,1466,1609.7,1748.1,1883.3,2017.8,2142.3,2253.6,2358.5,2455,2540.7,2620.4,2689,2750,2805.6,2855.3,2958.6,3066],datum.value)]","labelOverlap":false,"labelFlush":false,"grid":false,"domain":false,"tickSize":3,"tickColor":"#888","labelPadding":1,"labelFontSize":8.5,"labelColor":"#333","title":"Chromosomes","titleFontSize":11,"titleFontWeight":"normal","titlePadding":5,"titleColor":"#222"}},
     "y":{"field":"y","type":"quantitative","scale":{"domain":[0,20.6],"nice":false,"zero":false},"axis":{"values":[5,10,15,20],"labelOverlap":false,"labelFlush":false,"grid":true,"gridColor":"#d6d6d6","gridWidth":0.7,"domain":false,"tickSize":3,"tickColor":"#888","labelPadding":1,"labelFontSize":9,"labelColor":"#333","title":"GCN (NGS)","titleFontSize":7.5,"titleFontWeight":"normal","titlePadding":7,"titleColor":"#333"}}},
    "layer":[
     {"data":{"name":"bounds"},"mark":{"type":"rule","color":"#a3a3a3","strokeWidth":0.9},"encoding":{"y":{"datum":0},"y2":{"datum":20.6}}},
     {"data":{"name":"met"},"mark":{"type":"rule","color":"#b5dcef","strokeWidth":2},"encoding":{"y":{"datum":0},"y2":{"datum":20.6}}},
     {"data":{"name":"lines"},"transform":[{"filter":"datum.g==='B2'"}],"mark":{"type":"line","color":"#d32236","strokeWidth":0.9},"encoding":{}},
     {"data":{"name":"labels"},"transform":[{"filter":"datum.g==='B2'"}],"mark":{"type":"text","align":"left","baseline":"middle","fontSize":11,"color":"#222"},"encoding":{"text":{"field":"t"}}},
     {"data":{"name":"arrows"},"transform":[{"filter":"datum.g==='B2'"}],"mark":{"type":"rule","color":"#111","strokeWidth":1.2},"encoding":{"x2":{"field":"x2"},"y2":{"field":"y2"}}},
     {"data":{"name":"heads"},"transform":[{"filter":"datum.g==='B2'"}],"mark":{"type":"point","shape":"triangle-left","filled":true,"color":"#111","opacity":1,"size":28,"angle":-16},"encoding":{}},
     {"data":{"name":"ann"},"transform":[{"filter":"datum.g==='B2' && datum.k==='gene'"}],"mark":{"type":"text","align":"left","baseline":"middle","fontSize":11,"fontStyle":"italic","color":"#222"},"encoding":{"text":{"field":"t"}}},
     {"data":{"name":"ann"},"transform":[{"filter":"datum.g==='B2' && datum.k==='word'"}],"mark":{"type":"text","align":"left","baseline":"middle","fontSize":11,"color":"#222"},"encoding":{"text":{"field":"t"}}}
    ]}
  ]},
  {"spacing":0,"vconcat":[
   {"width":131,"height":0.5,"view":{"stroke":null,"fill":null},"data":{"values":[{}]},"mark":{"type":"text","fontSize":0},"encoding":{"text":{"value":""}}},
   {"width":131,"height":104,
   "view":{"stroke":null,"fill":null},
   "data":{"name":"bars"},
   "transform":[{"filter":"datum.p==='B'"}],
   "mark":{"type":"bar","stroke":"#333","strokeWidth":0.8},
   "encoding":{
    "x":{"field":"cat","type":"nominal","sort":null,"scale":{"paddingInner":0,"paddingOuter":0},"axis":{"title":null,"labelAngle":0,"labelExpr":"split(datum.label,'|')","tickBand":"extent","tickSize":4,"tickColor":"#999","domainColor":"#999","labelFontSize":8,"labelLineHeight":9.5,"labelPadding":2,"labelColor":"#333"}},
    "xOffset":{"field":"gene","type":"nominal","sort":["MAD1L1 (Chr.7)","MET"],"scale":{"paddingOuter":0.73,"paddingInner":0}},
    "y":{"field":"v","type":"quantitative","scale":{"domain":[0,20],"nice":false},"axis":{"values":[0,2,4,6,8,10,12,14,16,18,20],"labelOverlap":false,"grid":false,"title":"Relative GCN (qPCR)","titleFontSize":10,"titleFontWeight":"normal","titleColor":"#333","titlePadding":11,"labelFontSize":9.5,"labelColor":"#333","tickSize":3,"labelPadding":2,"domainColor":"#999","tickColor":"#999"}},
    "color":{"field":"gene","type":"nominal","scale":{"domain":["MAD1L1 (Chr.7)","MET"],"range":["#4a7ebb","#c0504d"]},"legend":{"title":null,"orient":"top-left","offset":5.5,"padding":0,"symbolType":"square","symbolSize":70,"symbolStrokeColor":"#333","symbolStrokeWidth":0.8,"labelFontSize":10,"labelFontStyle":"italic","labelColor":"#222","rowPadding":8,"labelOffset":2}}
   }}
  ]}
 ]},
{"resolve":{"scale":{"color":"independent"},"legend":{"color":"independent"}},
 "spacing":8,
 "hconcat":[
  {"spacing":5,"vconcat":[
   {"width":272,"height":46,
    "encoding":{"x":{"field":"x","type":"quantitative","scale":{"domain":[-124,3251],"nice":false,"zero":false},"axis":{"orient":"bottom","labels":true,"values":[124.6,370.9,591.4,786,972.1,1148.1,1313.2,1466,1609.7,1748.1,1883.3,2017.8,2142.3,2253.6,2358.5,2455,2540.7,2620.4,2689,2750,2805.6,2855.3,2958.6,3066],"labelExpr":"['1','2','3','4','5','6','7','8','','10','','12','','14','','','17','','','','21','','','Y'][indexof([124.6,370.9,591.4,786,972.1,1148.1,1313.2,1466,1609.7,1748.1,1883.3,2017.8,2142.3,2253.6,2358.5,2455,2540.7,2620.4,2689,2750,2805.6,2855.3,2958.6,3066],datum.value)]","labelOverlap":false,"labelFlush":false,"grid":false,"domain":false,"tickSize":3,"tickColor":"#888","labelPadding":1,"labelFontSize":8.5,"labelColor":"#333","title":""}},
     "y":{"field":"y","type":"quantitative","scale":{"domain":[0,20.6],"nice":false,"zero":false},"axis":{"values":[5,10,15,20],"labelOverlap":false,"labelFlush":false,"grid":true,"gridColor":"#d6d6d6","gridWidth":0.7,"domain":false,"tickSize":3,"tickColor":"#888","labelPadding":1,"labelFontSize":9,"labelColor":"#333","title":"GCN (NGS)","titleFontSize":7.5,"titleFontWeight":"normal","titlePadding":7,"titleColor":"#333"}}},
    "layer":[
     {"data":{"name":"bounds"},"mark":{"type":"rule","color":"#a3a3a3","strokeWidth":0.9},"encoding":{"y":{"datum":0},"y2":{"datum":20.6}}},
     {"data":{"name":"met"},"mark":{"type":"rule","color":"#b5dcef","strokeWidth":2},"encoding":{"y":{"datum":0},"y2":{"datum":20.6}}},
     {"data":{"name":"lines"},"transform":[{"filter":"datum.g==='C1'"}],"mark":{"type":"line","color":"#2a428f","strokeWidth":0.9},"encoding":{}},
     {"data":{"name":"labels"},"transform":[{"filter":"datum.g==='C1'"}],"mark":{"type":"text","align":"left","baseline":"middle","fontSize":11,"color":"#222"},"encoding":{"text":{"field":"t"}}},
     {"data":{"name":"panel"},"transform":[{"filter":"datum.g==='C1' && datum.k==='lab'"}],"mark":{"type":"text","align":"center","baseline":"middle","fontSize":12,"fontWeight":"bold","color":"#000"},"encoding":{"text":{"field":"t"}}},
     {"data":{"name":"panel"},"transform":[{"filter":"datum.g==='C1' && datum.k==='pt'"}],"mark":{"type":"text","align":"center","baseline":"middle","fontSize":11,"color":"#222"},"encoding":{"text":{"field":"t"}}}
    ]},
   {"width":272,"height":46,
    "encoding":{"x":{"field":"x","type":"quantitative","scale":{"domain":[-124,3251],"nice":false,"zero":false},"axis":{"values":[124.6,370.9,591.4,786,972.1,1148.1,1313.2,1466,1609.7,1748.1,1883.3,2017.8,2142.3,2253.6,2358.5,2455,2540.7,2620.4,2689,2750,2805.6,2855.3,2958.6,3066],"labelExpr":"['1','2','3','4','5','6','7','8','','10','','12','','14','','','17','','','','21','','','Y'][indexof([124.6,370.9,591.4,786,972.1,1148.1,1313.2,1466,1609.7,1748.1,1883.3,2017.8,2142.3,2253.6,2358.5,2455,2540.7,2620.4,2689,2750,2805.6,2855.3,2958.6,3066],datum.value)]","labelOverlap":false,"labelFlush":false,"grid":false,"domain":false,"tickSize":3,"tickColor":"#888","labelPadding":1,"labelFontSize":8.5,"labelColor":"#333","title":"Chromosomes","titleFontSize":11,"titleFontWeight":"normal","titlePadding":5,"titleColor":"#222"}},
     "y":{"field":"y","type":"quantitative","scale":{"domain":[0,20.6],"nice":false,"zero":false},"axis":{"values":[5,10,15,20],"labelOverlap":false,"labelFlush":false,"grid":true,"gridColor":"#d6d6d6","gridWidth":0.7,"domain":false,"tickSize":3,"tickColor":"#888","labelPadding":1,"labelFontSize":9,"labelColor":"#333","title":"GCN (NGS)","titleFontSize":7.5,"titleFontWeight":"normal","titlePadding":7,"titleColor":"#333"}}},
    "layer":[
     {"data":{"name":"bounds"},"mark":{"type":"rule","color":"#a3a3a3","strokeWidth":0.9},"encoding":{"y":{"datum":0},"y2":{"datum":20.6}}},
     {"data":{"name":"met"},"mark":{"type":"rule","color":"#b5dcef","strokeWidth":2},"encoding":{"y":{"datum":0},"y2":{"datum":20.6}}},
     {"data":{"name":"lines"},"transform":[{"filter":"datum.g==='C2'"}],"mark":{"type":"line","color":"#d32236","strokeWidth":0.9},"encoding":{}},
     {"data":{"name":"labels"},"transform":[{"filter":"datum.g==='C2'"}],"mark":{"type":"text","align":"left","baseline":"middle","fontSize":11,"color":"#222"},"encoding":{"text":{"field":"t"}}},
     {"data":{"name":"arrows"},"transform":[{"filter":"datum.g==='C2'"}],"mark":{"type":"rule","color":"#111","strokeWidth":1.2},"encoding":{"x2":{"field":"x2"},"y2":{"field":"y2"}}},
     {"data":{"name":"heads"},"transform":[{"filter":"datum.g==='C2'"}],"mark":{"type":"point","shape":"triangle-left","filled":true,"color":"#111","opacity":1,"size":28,"angle":-20},"encoding":{}},
     {"data":{"name":"ann"},"transform":[{"filter":"datum.g==='C2' && datum.k==='gene'"}],"mark":{"type":"text","align":"left","baseline":"middle","fontSize":11,"fontStyle":"italic","color":"#222"},"encoding":{"text":{"field":"t"}}},
     {"data":{"name":"ann"},"transform":[{"filter":"datum.g==='C2' && datum.k==='word'"}],"mark":{"type":"text","align":"left","baseline":"middle","fontSize":11,"color":"#222"},"encoding":{"text":{"field":"t"}}}
    ]}
  ]},
  {"width":164,"height":121,
   "view":{"stroke":null,"fill":null},
   "data":{"name":"bars"},
   "transform":[{"filter":"datum.p==='C'"}],
   "mark":{"type":"bar","stroke":"#333","strokeWidth":0.8},
   "encoding":{
    "x":{"field":"cat","type":"nominal","sort":null,"scale":{"paddingInner":0,"paddingOuter":0},"axis":{"title":null,"labelAngle":0,"labelExpr":"split(datum.label,'|')","tickBand":"extent","tickSize":4,"tickColor":"#999","domainColor":"#999","labelFontSize":7.5,"labelLineHeight":8.7,"labelPadding":3,"labelColor":"#333"}},
    "xOffset":{"field":"gene","type":"nominal","sort":["MAD1L1 (Chr.7)","MET"],"scale":{"paddingOuter":0.82,"paddingInner":0}},
    "y":{"field":"v","type":"quantitative","scale":{"domain":[0,18],"nice":false},"axis":{"values":[0,2,4,6,8,10,12,14,16,18],"labelOverlap":false,"grid":false,"title":"Relative GCN (qPCR)","titleFontSize":10.5,"titleFontWeight":"normal","titleColor":"#333","titlePadding":4,"labelFontSize":10.5,"labelColor":"#333","tickSize":3,"labelPadding":5,"domainColor":"#999","tickColor":"#999"}},
    "color":{"field":"gene","type":"nominal","scale":{"domain":["MAD1L1 (Chr.7)","MET"],"range":["#4a7ebb","#c0504d"]},"legend":{"title":null,"orient":"top-left","offset":3,"padding":0,"symbolType":"square","symbolSize":75,"symbolStrokeColor":"#333","symbolStrokeWidth":0.8,"labelFontSize":10.5,"labelFontStyle":"italic","labelColor":"#222","rowPadding":5,"labelOffset":3}}
   }}
 ]}
]
}
